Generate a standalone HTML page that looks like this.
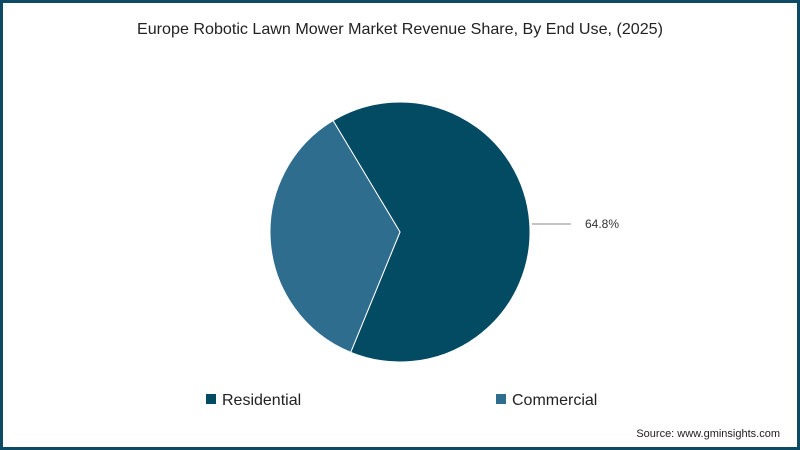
<!DOCTYPE html>
<html><head><meta charset="utf-8"><style>
html,body{margin:0;padding:0;background:#fff;}
#wrap{width:800px;height:450px;box-sizing:border-box;border:3px solid #0d4a63;position:relative;overflow:hidden;background:#fff;}
svg{position:absolute;left:-3px;top:-3px;}
text{font-family:"Liberation Sans",sans-serif;}
</style></head><body>
<div id="wrap">
<svg id="chart" width="800" height="450">
<text x="400" y="34" text-anchor="middle" font-size="16" fill="#222" textLength="526" lengthAdjust="spacingAndGlyphs">Europe Robotic Lawn Mower Market Revenue Share, By End Use, (2025)</text>
<g id="slices"></g>
<line x1="532" y1="224" x2="571" y2="224" stroke="#888" stroke-width="1"/>
<text x="585" y="228" font-size="12" fill="#333">64.8%</text>
<rect x="206" y="394" width="10" height="10" fill="#024b63"/>
<text x="222" y="405" font-size="16" fill="#222">Residential</text>
<rect x="496" y="394" width="10" height="10" fill="#2e6d8e"/>
<text x="512" y="405" font-size="16" fill="#222">Commercial</text>
<text x="780" y="437" text-anchor="end" font-size="11" fill="#222">Source: www.gminsights.com</text>
</svg>
</div>
<script>
const categories = ["Residential", "Commercial"];
const shares = [64.8, 35.2];
const colors = ["#024b63", "#2e6d8e"];
const cx = 400, cy = 232, r = 130, startDeg = -31;
const g = document.getElementById('slices');
const total = shares.reduce((a, b) => a + b, 0);
let a0 = startDeg;
function pt(deg) { const t = deg * Math.PI / 180; return [cx + r * Math.sin(t), cy - r * Math.cos(t)]; }
shares.forEach((v, i) => {
  const sweep = v / total * 360;
  const a1 = a0 + sweep;
  const p0 = pt(a0), p1 = pt(a1);
  const large = sweep > 180 ? 1 : 0;
  const path = document.createElementNS('http://www.w3.org/2000/svg', 'path');
  path.setAttribute('d', `M${cx},${cy} L${p0[0]},${p0[1]} A${r},${r} 0 ${large} 1 ${p1[0]},${p1[1]} Z`);
  path.setAttribute('fill', colors[i]);
  path.setAttribute('stroke', '#fff');
  path.setAttribute('stroke-width', '1');
  
  
  g.appendChild(path);
  a0 = a1;
});
</script>
</body></html>
